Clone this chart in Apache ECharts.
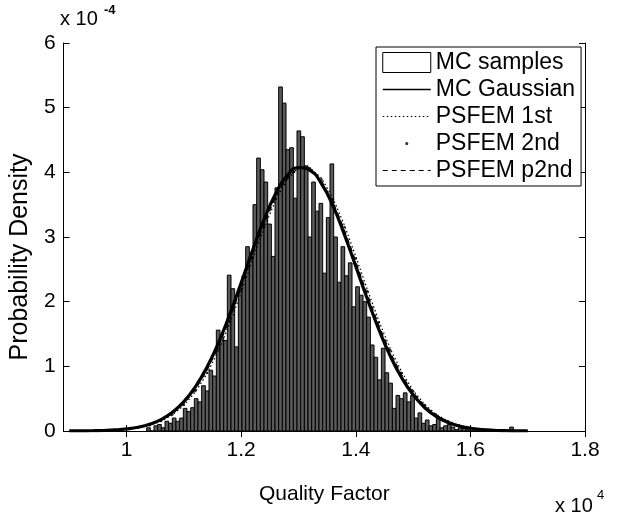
<!DOCTYPE html>
<html>
<head>
<meta charset="utf-8">
<script src="https://cdn.jsdelivr.net/npm/echarts@6/dist/echarts.min.js"></script>
<style>html,body{margin:0;padding:0;background:#fff}#c{width:619px;height:520px}</style>
</head>
<body>
<div id="c"></div>
<script>
// Histogram (MC samples): 100 bins, values in units of 1e-4
var binStart = 1.035;   // x in units of 1e4
var binWidth = 0.0064;
var mcSamples = [
  0.05, 0, 0.08, 0.1, 0.05, 0.15, 0.12, 0.2, 0.15, 0.2,
  0.35, 0.3, 0.36, 0.5, 0.45, 0.7, 0.62, 0.94, 0.85, 1.56,
  1.45, 1.4, 2.41, 2.2, 1.3, 2.2, 2.4, 2.85, 2.7, 3.5,
  4.22, 4.04, 3.85, 3.2, 2.7, 3.76, 5.32, 5.07, 4.35, 4.38,
  3.6, 4.64, 4.55, 4.1, 3.0, 3.85, 3.4, 3.52, 2.44, 3.3,
  4.13, 3.0, 2.3, 2.85, 2.4, 2.6, 1.92, 2.23, 2.1, 2.0,
  1.76, 1.33, 1.14, 0.79, 1.28, 0.9, 0.74, 0.35, 0.55, 0.5,
  0.59, 0.45, 0.55, 0.2, 0.28, 0.12, 0.17, 0.08, 0.1, 0.22,
  0.05, 0.08, 0.1, 0.06, 0.02, 0.05, 0.04, 0.02, 0, 0.03,
  0, 0.02, 0, 0, 0.02, 0, 0, 0, 0, 0.06
];
// Curves sampled at these x positions (units of 1e4)
var curveX = [0.90,0.92,0.94,0.96,0.98,1.00,1.02,1.04,1.06,1.08,1.10,1.12,1.14,1.16,1.18,1.20,1.22,1.24,1.26,1.28,1.30,1.32,1.34,1.36,1.38,1.40,1.42,1.44,1.46,1.48,1.50,1.52,1.54,1.56,1.58,1.60,1.62,1.64,1.66,1.68,1.70];
var mcGaussian = [0.0008,0.0018,0.0039,0.0081,0.0163,0.0316,0.0584,0.1039,0.177,0.289,0.454,0.682,0.983,1.359,1.803,2.293,2.797,3.271,3.670,3.949,4.075,4.032,3.827,3.484,3.041,2.546,2.044,1.574,1.162,0.823,0.559,0.364,0.227,0.136,0.078,0.043,0.023,0.0115,0.0056,0.0026,0.0012];
var psfem1st = [0.0008,0.0017,0.0037,0.0076,0.0150,0.0256,0.048,0.0866,0.150,0.248,0.396,0.603,0.881,1.236,1.662,2.142,2.648,3.138,3.567,3.887,4.062,4.070,3.911,3.604,3.184,2.698,2.191,1.707,1.275,0.913,0.627,0.413,0.260,0.158,0.091,0.051,0.0275,0.0139,0.0068,0.0032,0.0014];
var psfem2ndX = [1.00,1.02,1.04,1.06,1.08,1.10,1.12,1.14,1.16,1.18,1.20,1.22,1.24,1.26,1.28,1.30,1.32,1.34,1.36,1.38,1.40,1.42,1.44,1.46,1.48,1.50,1.52,1.54,1.56,1.58,1.60];
var psfem2nd = [0.0268,0.0501,0.0901,0.155,0.256,0.407,0.619,0.902,1.260,1.690,2.172,2.678,3.164,3.587,3.899,4.065,4.062,3.894,3.580,3.155,2.667,2.162,1.680,1.252,0.895,0.614,0.403,0.254,0.153,0.089,0.049];
var psfemP2nd = [0.0008,0.0018,0.0038,0.0079,0.0157,0.0286,0.0532,0.0953,0.1634,0.2686,0.4249,0.6425,0.9322,1.297,1.732,2.218,2.723,3.204,3.618,3.918,4.069,4.051,3.869,3.544,3.113,2.622,2.118,1.641,1.218,0.868,0.593,0.389,0.244,0.147,0.085,0.047,0.025,0.0127,0.0062,0.0029,0.0013];
var xTicks = [1, 1.2, 1.4, 1.6, 1.8];
var yTicks = [0, 1, 2, 3, 4, 5, 6];

function pairs(xs, ys){ return xs.map(function(x,i){ return [x, ys[i]]; }); }
var histData = mcSamples.map(function(v,i){
  return [binStart + i*binWidth, binStart + (i+1)*binWidth, v];
});

var FONT = 'Liberation Sans';
var NOSYM = {color:'rgba(0,0,0,0)', borderColor:'rgba(0,0,0,0)', borderWidth:0};
var chart = echarts.init(document.getElementById('c'), null, {renderer:'canvas'});
var axisCommon = {
  axisLine:{show:true, lineStyle:{color:'#000', width:1}},
  splitLine:{show:false}
};
chart.setOption({
  animation:false,
  backgroundColor:'#fff',
  grid:{left:57, top:43, right:34, bottom:89, containLabel:false},
  xAxis:[
    Object.assign({type:'value', min:0.89, max:1.8, position:'bottom',
      name:'Quality Factor', nameLocation:'middle', nameGap:53,
      nameTextStyle:{fontFamily:FONT, fontSize:21, color:'#000'},
      axisTick:{inside:true, length:6, customValues:xTicks, lineStyle:{color:'#000'}},
      axisLabel:{customValues:xTicks, margin:9, fontFamily:FONT, fontSize:21, color:'#000'}
    }, axisCommon),
    Object.assign({type:'value', min:0.89, max:1.8, position:'top',
      axisTick:{inside:true, length:6, customValues:xTicks, lineStyle:{color:'#000'}},
      axisLabel:{show:false}
    }, axisCommon)
  ],
  yAxis:[
    Object.assign({type:'value', min:0, max:6, interval:1, position:'left',
      name:'Probability Density', nameLocation:'middle', nameGap:28,
      nameTextStyle:{fontFamily:FONT, fontSize:25, color:'#000', padding:[0,40,0,0]},
      axisTick:{inside:true, length:6, lineStyle:{color:'#000'}},
      axisLabel:{margin:8, fontFamily:FONT, fontSize:21, color:'#000'}
    }, axisCommon),
    Object.assign({type:'value', min:0, max:6, interval:1, position:'right',
      axisTick:{inside:true, length:6, lineStyle:{color:'#000'}},
      axisLabel:{show:false}
    }, axisCommon)
  ],
  legend:{
    orient:'vertical', left:376, top:47,
    backgroundColor:'#fff', borderColor:'#000', borderWidth:1, borderRadius:0,
    padding:[4,6,4,6], itemGap:4, itemWidth:48, itemHeight:20,
    textStyle:{fontFamily:FONT, fontSize:23, color:'#000', padding:[0,0,0,0]},
    data:[
      {name:'MC samples', icon:'rect', itemStyle:{color:'#fff', borderColor:'#000', borderWidth:1}},
      {name:'MC Gaussian', itemStyle:NOSYM, lineStyle:{width:1.5}},
      {name:'PSFEM 1st', itemStyle:NOSYM, lineStyle:{width:1.2}},
      {name:'PSFEM 2nd', icon:'path://M0,0h0.01v0.01h-0.01zM47.99,19.99h0.01v0.01h-0.01zM24,8.5a1.6,1.6 0 1,0 0.01,0z', itemStyle:{color:'#000'}},
      {name:'PSFEM p2nd', itemStyle:NOSYM, lineStyle:{width:1.2}}
    ]
  },
  series:[
    {
      name:'MC samples', type:'custom', xAxisIndex:0, yAxisIndex:0,
      data:histData, encode:{x:[0,1], y:2},
      itemStyle:{color:'#fff', borderColor:'#000'},
      renderItem:function(params, api){
        var p0 = api.coord([api.value(0), api.value(2)]);
        var p1 = api.coord([api.value(1), 0]);
        return {type:'rect', shape:{x:p0[0], y:p0[1], width:p1[0]-p0[0], height:p1[1]-p0[1]},
          style:{fill:'#5a5a5a', stroke:'#000', lineWidth:1}};
      },
      z:1
    },
    {
      name:'PSFEM p2nd', type:'line', data:pairs(curveX, psfemP2nd), symbol:'none', smooth:false,
      lineStyle:{color:'#000', width:1.2, type:[5,4]}, itemStyle:{color:'#000'}, z:3
    },
    {
      name:'PSFEM 1st', type:'line', data:pairs(curveX, psfem1st), symbol:'none', smooth:false,
      lineStyle:{color:'#000', width:1.2, type:[1.5,2.5]}, itemStyle:{color:'#000'}, z:3
    },
    {
      name:'PSFEM 2nd', type:'scatter', data:pairs(psfem2ndX, psfem2nd), symbol:'circle', symbolSize:2.5,
      itemStyle:{color:'#000'}, z:4
    },
    {
      name:'MC Gaussian', type:'line', data:pairs(curveX, mcGaussian), symbol:'none', smooth:true,
      lineStyle:{color:'#000', width:3.2}, itemStyle:{color:'#000'}, z:5
    }
  ],
  graphic:[
    {type:'text', left:60, top:9, style:{text:'x 10', font:'20px "Liberation Sans"', fill:'#000'}},
    {type:'text', left:104, top:4, style:{text:'-4', font:'bold 13px "Liberation Sans"', fill:'#000'}},
    {type:'text', left:555, top:496, style:{text:'x 10', font:'20px "Liberation Sans"', fill:'#000'}},
    {type:'text', left:597, top:489, style:{text:'4', font:'13px "Liberation Sans"', fill:'#000'}}
  ]
});
</script>
</body>
</html>
